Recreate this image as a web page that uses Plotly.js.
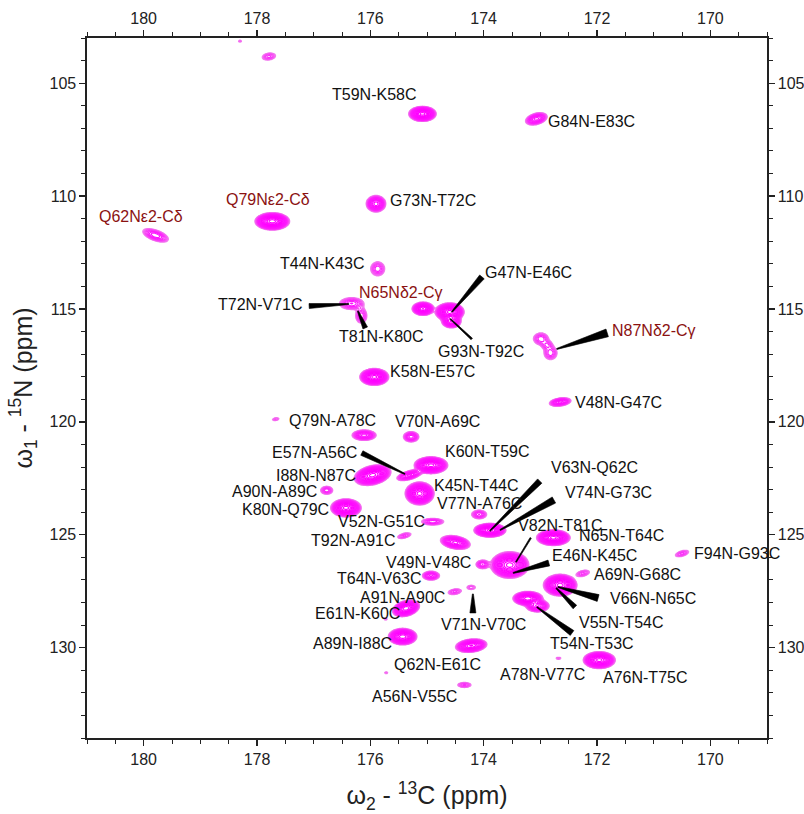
<!DOCTYPE html>
<html>
<head>
<meta charset="utf-8">
<script src="https://cdn.plot.ly/plotly-3.0.1.min.js"></script>
<style>
  html, body { margin: 0; padding: 0; background: #fff; }
  #plot { width: 804px; height: 814px; }
</style>
</head>
<body>
<div id="plot"></div>
<script>
// ---- Peak list of the 15N-13C correlation spectrum ----
// 13C shift (ppm), 15N shift (ppm), height in units of the lowest contour,
// Gaussian line widths (sigma, ppm) and C/N correlation of each lineshape.
const peakC = [178.30, 177.79, 175.08, 173.07, 175.90, 177.73, 179.79, 175.87, 176.33, 176.16,
               175.07, 174.60, 174.57, 172.99, 172.82, 172.88, 175.93, 172.65, 177.67, 176.11,
               175.28, 174.93, 175.31, 175.96, 176.77, 175.13, 176.43, 174.90, 174.08, 175.40,
               173.89, 174.50, 174.02, 173.54, 172.77, 170.50, 174.93, 174.51, 174.22, 175.37,
               175.73, 175.43, 174.22, 175.72, 174.34, 172.25, 172.65, 173.22, 173.05, 172.68,
               171.96];
const peakN = [103.14, 103.82, 106.36, 106.58, 110.34, 111.12, 111.74, 113.22, 114.76, 115.30,
               114.99, 115.13, 115.55, 116.32, 116.95, 116.60, 118.01, 119.12, 119.88, 120.59,
               120.66, 121.92, 122.36, 122.36, 123.03, 123.17, 123.81, 124.42, 124.10, 125.04,
               124.80, 125.34, 126.31, 126.34, 125.13, 125.83, 126.81, 127.52, 127.33, 128.26,
               128.73, 129.51, 129.91, 131.11, 131.65, 126.71, 127.23, 127.82, 128.15, 130.47,
               130.55];
const peakHeight = [1.6, 3, 40, 10, 15, 50, 6, 4, 5, 4,
                    30, 40, 20, 4, 4, 3, 40, 10, 2, 10,
                    7, 40, 12, 40, 4, 40, 40, 5, 5, 3,
                    40, 18, 5, 40, 40, 3, 8, 3, 2.2, 35,
                    1.6, 35, 25, 1.6, 3, 3, 40, 35, 14, 1.8,
                    40];
const peakSigmaC = [0.03, 0.08, 0.09, 0.09, 0.075, 0.11, 0.12, 0.075, 0.12, 0.06,
                    0.075, 0.095, 0.07, 0.08, 0.07, 0.06, 0.095, 0.09, 0.05, 0.10,
                    0.07, 0.11, 0.10, 0.12, 0.065, 0.095, 0.10, 0.11, 0.075, 0.08,
                    0.105, 0.11, 0.065, 0.125, 0.11, 0.08, 0.075, 0.08, 0.06, 0.09,
                    0.03, 0.095, 0.11, 0.03, 0.08, 0.08, 0.11, 0.10, 0.09, 0.04,
                    0.105];
const peakSigmaN = [0.05, 0.11, 0.125, 0.13, 0.16, 0.14, 0.16, 0.19, 0.15, 0.20,
                    0.115, 0.15, 0.12, 0.16, 0.18, 0.12, 0.14, 0.09, 0.06, 0.11,
                    0.12, 0.14, 0.11, 0.17, 0.11, 0.19, 0.15, 0.085, 0.11, 0.09,
                    0.115, 0.13, 0.11, 0.22, 0.13, 0.10, 0.10, 0.09, 0.08, 0.14,
                    0.05, 0.14, 0.12, 0.05, 0.08, 0.10, 0.18, 0.12, 0.12, 0.05,
                    0.14];
const peakCorr = [0, 0.2, 0, 0.35, 0, 0, -0.55, 0, 0, 0,
                  0, 0, 0, 0, 0, 0, 0, 0.3, 0.3, 0,
                  0, 0, 0.55, 0.3, 0, 0, 0, 0, 0, 0.5,
                  0, -0.3, 0, 0, 0, 0.5, 0, 0.3, 0, 0.3,
                  0, 0, 0.2, 0, 0, 0.4, 0, 0, 0, 0,
                  0];

// ---- Assignments ----
const labelText = ['T59N-K58C', 'G84N-E83C', 'G73N-T72C', 'Q79Nε2-Cδ', 'Q62Nε2-Cδ', 'T44N-K43C',
                   'T72N-V71C', 'N65Nδ2-Cγ', 'T81N-K80C', 'G47N-E46C', 'G93N-T92C', 'N87Nδ2-Cγ',
                   'K58N-E57C', 'V48N-G47C', 'Q79N-A78C', 'V70N-A69C', 'E57N-A56C', 'K60N-T59C',
                   'I88N-N87C', 'A90N-A89C', 'K45N-T44C', 'V77N-A76C', 'K80N-Q79C', 'V52N-G51C',
                   'T92N-A91C', 'V63N-Q62C', 'V74N-G73C', 'V82N-T81C', 'N65N-T64C', 'F94N-G93C',
                   'E46N-K45C', 'V49N-V48C', 'A69N-G68C', 'T64N-V63C', 'V66N-N65C', 'A91N-A90C',
                   'V71N-V70C', 'V55N-T54C', 'E61N-K60C', 'T54N-T53C', 'A89N-I88C', 'Q62N-E61C',
                   'A78N-V77C', 'A76N-T75C', 'A56N-V55C'];
// side-chain correlations are printed in dark red
const labelSideChain = ['Q79Nε2-Cδ', 'Q62Nε2-Cδ', 'N65Nδ2-Cγ', 'N87Nδ2-Cγ'];

// label placement (ppm) for each assignment, same order as labelText
const labelPosC = [175.93, 172.09, 174.90, 177.81, 180.05, 176.85,
                   177.94, 175.46, 175.81, 173.21, 174.04, 171.00,
                   174.90, 171.62, 176.67, 174.81, 176.99, 173.95,
                   176.96, 177.70, 174.13, 174.08, 177.49, 175.81,
                   176.31, 172.04, 171.80, 172.65, 171.57, 169.53,
                   172.04, 174.97, 171.28, 175.84, 171.02, 175.44,
                   174.00, 171.58, 176.22, 172.09, 176.31, 174.81,
                   172.96, 171.15, 175.22];
const labelPosN = [105.52, 106.70, 110.19, 110.15, 110.90, 113.00,
                   114.81, 114.25, 116.24, 113.39, 116.90, 115.95,
                   117.76, 119.12, 119.93, 120.00, 121.36, 121.33,
                   122.36, 123.07, 122.83, 123.62, 123.88, 124.40,
                   125.24, 122.04, 123.13, 124.58, 125.04, 125.83,
                   125.90, 126.22, 126.76, 126.93, 127.82, 127.77,
                   128.97, 128.89, 128.48, 129.81, 129.81, 130.74,
                   131.18, 131.33, 132.17];

// wedge pointers: start next to the label, tip on the peak (ppm), base width in px
const pointerFromC = [177.08, 176.09, 174.03, 174.21, 171.82, 176.15, 173.01, 172.76, 173.17, 172.85, 171.98, 172.39, 172.44, 174.19];
const pointerFromN = [114.87, 115.84, 113.58, 116.33, 116.06, 121.38, 122.62, 123.46, 125.14, 126.25, 127.80, 128.20, 129.35, 128.46];
const pointerToC   = [176.38, 176.22, 174.56, 174.59, 172.71, 175.39, 173.89, 173.71, 173.43, 173.48, 172.69, 172.72, 173.06, 174.19];
const pointerToN   = [114.78, 115.09, 115.13, 115.44, 116.77, 122.31, 124.83, 124.79, 126.21, 126.69, 127.31, 127.36, 128.20, 127.62];
const pointerWidth = [5, 5, 6, 2, 8, 5, 6, 7, 1.5, 6, 7, 5, 6, 6];

// ---- Frame ----
const W = 804, H = 814;
const margin = { l: 87, r: 37, t: 38, b: 76, pad: 0 };
const cRange = [181, 169];
const nRange = [134, 103];
const plotW = W - margin.l - margin.r;
const plotH = H - margin.t - margin.b;
const pxPerC = plotW / (cRange[0] - cRange[1]);
const pxPerN = plotH / (nRange[0] - nRange[1]);

// ---- Spectrum grid: sum of Gaussian lineshapes, shown on a log scale ----
const dC = 0.02, dN = 0.05;
const nCpts = Math.round((cRange[0] - cRange[1]) / dC) + 1;
const nNpts = Math.round((nRange[0] - nRange[1]) / dN) + 1;
const gridC = Array.from({ length: nCpts }, (_, i) => +(cRange[1] + i * dC).toFixed(4));
const gridN = Array.from({ length: nNpts }, (_, j) => +(nRange[1] + j * dN).toFixed(4));
const spec = gridN.map(() => new Float64Array(nCpts));

for (let p = 0; p < peakC.length; p++) {
  const sc = peakSigmaC[p], sn = peakSigmaN[p], r = peakCorr[p], h = peakHeight[p];
  const k = 1 / (1 - r * r);
  const i0 = Math.max(0, Math.floor((peakC[p] - 6 * sc - cRange[1]) / dC));
  const i1 = Math.min(nCpts - 1, Math.ceil((peakC[p] + 6 * sc - cRange[1]) / dC));
  const j0 = Math.max(0, Math.floor((peakN[p] - 6 * sn - nRange[1]) / dN));
  const j1 = Math.min(nNpts - 1, Math.ceil((peakN[p] + 6 * sn - nRange[1]) / dN));
  for (let j = j0; j <= j1; j++) {
    const v = (gridN[j] - peakN[p]) / sn;
    const row = spec[j];
    for (let i = i0; i <= i1; i++) {
      const u = (gridC[i] - peakC[p]) / sc;
      const q = (u * u - 2 * r * u * v + v * v) * k;
      row[i] += h * Math.exp(-0.5 * q);
    }
  }
}
const logSpec = spec.map(row => Array.from(row, s => Math.log(Math.max(s, 1e-3))));

const levelTop = Math.log(60);
const contourTrace = {
  type: 'contour',
  x: gridC, y: gridN, z: logSpec,
  xaxis: 'x', yaxis: 'y',
  autocontour: false,
  contours: { start: 0, end: levelTop, size: Math.log(1.22), coloring: 'lines', showlabels: false },
  line: { width: 1.15, smoothing: 1 },
  zmin: 0, zmax: 3.0,
  colorscale: [[0, '#f184ee'], [0.18, '#f650f3'], [0.4, '#fc1efc'], [1, '#ff00ff']],
  showscale: false,
  hoverinfo: 'skip'
};

// peak centres on the mirrored (top/right) axes so those axes get drawn
const centreTrace = {
  type: 'scatter', mode: 'markers',
  x: peakC, y: peakN, xaxis: 'x2', yaxis: 'y2',
  marker: { size: 1, opacity: 0 },
  hoverinfo: 'skip', showlegend: false
};

// ---- Labels ----
const labelFont = 'Liberation Sans, Arial, Helvetica, sans-serif';
const annotations = labelText.map((t, i) => ({
  x: labelPosC[i], y: labelPosN[i], xref: 'x', yref: 'y',
  text: t, showarrow: false, xanchor: 'center', yanchor: 'middle',
  font: { family: labelFont, size: 16, color: labelSideChain.includes(t) ? '#8b1212' : '#111' }
}));

// ---- Wedge pointers as filled paths ----
function toPx(c, n) { return [(cRange[0] - c) * pxPerC, (n - nRange[1]) * pxPerN]; }
function toData(px, py) { return [cRange[0] - px / pxPerC, nRange[1] + py / pxPerN]; }
const shapes = pointerFromC.map((_, i) => {
  const [x1, y1] = toPx(pointerFromC[i], pointerFromN[i]);
  const [x2, y2] = toPx(pointerToC[i], pointerToN[i]);
  const len = Math.hypot(x2 - x1, y2 - y1) || 1;
  const nx = -(y2 - y1) / len, ny = (x2 - x1) / len;
  const wb = pointerWidth[i] / 2, wt = 0.5;
  const pts = [
    toData(x1 + nx * wb, y1 + ny * wb),
    toData(x2 + nx * wt, y2 + ny * wt),
    toData(x2 - nx * wt, y2 - ny * wt),
    toData(x1 - nx * wb, y1 - ny * wb)
  ];
  const path = 'M' + pts.map(p => p[0].toFixed(4) + ',' + p[1].toFixed(4)).join(' L') + ' Z';
  return { type: 'path', xref: 'x', yref: 'y', path: path,
           fillcolor: '#000', line: { width: 0.6, color: '#000' }, layer: 'above' };
});

// ---- Axes ----
const tickFont = { family: labelFont, size: 16, color: '#222' };
function axisBase() {
  return {
    showgrid: false, zeroline: false, showline: true, linecolor: '#222', linewidth: 1.6,
    ticks: 'outside', ticklen: 6, tickwidth: 1.3, tickcolor: '#222',
    tickfont: tickFont, fixedrange: true
  };
}
const xMinor = { ticks: 'outside', ticklen: 4, tickwidth: 1, tickcolor: '#222', dtick: 0.5 };
const yMinor = { ticks: 'outside', ticklen: 4, tickwidth: 1, tickcolor: '#222', dtick: 1 };
const titleFont = { family: labelFont, size: 25, color: '#222' };

const layout = {
  width: W, height: H, margin: margin,
  paper_bgcolor: '#fff', plot_bgcolor: '#fff',
  showlegend: false,
  xaxis: Object.assign(axisBase(), {
    range: cRange, tick0: 170, dtick: 2, minor: xMinor, anchor: 'y',
    title: { text: 'ω<sub>2</sub> - <sup>13</sup>C (ppm)', font: titleFont, standoff: 20 }
  }),
  xaxis2: Object.assign(axisBase(), {
    range: cRange, tick0: 170, dtick: 2, minor: xMinor, overlaying: 'x', side: 'top', anchor: 'y2'
  }),
  yaxis: Object.assign(axisBase(), {
    range: nRange, tick0: 105, dtick: 5, minor: yMinor, anchor: 'x',
    title: { text: 'ω<sub>1</sub> - <sup>15</sup>N (ppm)', font: titleFont, standoff: 10 }
  }),
  yaxis2: Object.assign(axisBase(), {
    range: nRange, tick0: 105, dtick: 5, minor: yMinor, overlaying: 'y', side: 'right', anchor: 'x2'
  }),
  annotations: annotations,
  shapes: shapes
};

Plotly.newPlot('plot', [contourTrace, centreTrace], layout, { displayModeBar: false, staticPlot: true });
</script>
</body>
</html>
